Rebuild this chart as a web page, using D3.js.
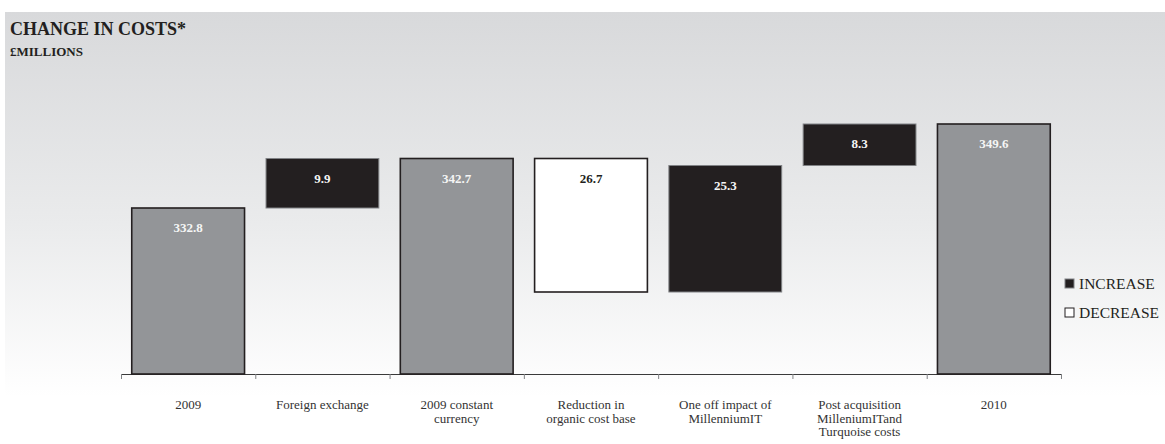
<!DOCTYPE html>
<html>
<head>
<meta charset="utf-8">
<script src="https://cdn.jsdelivr.net/npm/d3@7"></script>
<style>
  html, body { margin: 0; padding: 0; background: #fff; }
  text { font-family: "Liberation Serif", "DejaVu Serif", serif; }
</style>
</head>
<body>
<svg id="chart"></svg>
<script>
const width = 1165;
const height = 444;

// Chart data
const categories = ["2009", "Foreign exchange", "2009 constant currency", "Reduction in organic cost base",
  "One off impact of MillenniumIT", "Post acquisition MilleniumITand Turquoise costs", "2010"];
const categoryLines = [
  ["2009"],
  ["Foreign exchange"],
  ["2009 constant", "currency"],
  ["Reduction in", "organic cost base"],
  ["One off impact of", "MillenniumIT"],
  ["Post acquisition", "MilleniumITand", "Turquoise costs"],
  ["2010"]
];
const values = [332.8, 9.9, 342.7, -26.7, 25.3, 8.3, 349.6];
const kinds = ["total", "increase", "total", "decrease", "increase", "increase", "total"];
const legendLabels = ["INCREASE", "DECREASE"];

// Build waterfall segments
let running = 0;
const bars = values.map((v, i) => {
  let start, end;
  if (kinds[i] === "total") {
    start = null;
    end = v;
    running = v;
  } else {
    start = running;
    end = running + v;
    running = end;
  }
  return { cat: categories[i], value: v, kind: kinds[i], start: start, end: end };
});

const svg = d3.select("#chart").attr("width", width).attr("height", height);

// Background gradient
const defs = svg.append("defs");
const grad = defs.append("linearGradient")
  .attr("id", "bg").attr("x1", 0).attr("y1", 0).attr("x2", 0).attr("y2", 1);
grad.append("stop").attr("offset", "0%").attr("stop-color", "#d8d9db");
grad.append("stop").attr("offset", "55%").attr("stop-color", "#eaebec");
grad.append("stop").attr("offset", "100%").attr("stop-color", "#ffffff");

svg.append("rect").attr("x", 5).attr("y", 12)
  .attr("width", width - 5).attr("height", 385)
  .attr("fill", "url(#bg)");

// Scales
const x = d3.scaleBand()
  .domain(categories)
  .range([121, 1061])
  .paddingInner(0.16)
  .paddingOuter(0.08);

const y = d3.scaleLinear()
  .domain([299.6, 349.6])
  .range([374, 124]);

const fills = { total: "#939598", increase: "#231f20", decrease: "#ffffff" };
const strokes = { total: "#231f20", increase: "#808285", decrease: "#231f20" };
const labelFills = { total: "#f5f5f5", increase: "#f5f5f5", decrease: "#231f20" };

const barTop = d => d.kind === "total" ? y(d.end) : y(Math.max(d.start, d.end));
const barBottom = d => d.kind === "total" ? y(y.domain()[0]) : y(Math.min(d.start, d.end));

// Axis with ticks at band edges
const edge = d3.scaleLinear().domain([0, categories.length]).range(x.range());
const axis = svg.append("g")
  .attr("transform", "translate(0,374)")
  .call(d3.axisBottom(edge).ticks(categories.length).tickSize(5).tickSizeOuter(0).tickFormat(""));
axis.select(".domain").attr("stroke", "#3a3a3a");
axis.selectAll(".tick line").attr("stroke", "#808285");

// Bars
svg.selectAll("rect.bar")
  .data(bars)
  .enter()
  .append("rect")
  .attr("class", "bar")
  .attr("x", d => x(d.cat))
  .attr("y", d => barTop(d))
  .attr("width", x.bandwidth())
  .attr("height", d => barBottom(d) - barTop(d))
  .attr("fill", d => fills[d.kind])
  .attr("stroke", d => strokes[d.kind])
  .attr("stroke-width", d => d.kind === "increase" ? 1 : 1.6);

// Value labels
svg.selectAll("text.val")
  .data(bars)
  .enter()
  .append("text")
  .attr("class", "val")
  .attr("x", d => x(d.cat) + x.bandwidth() / 2)
  .attr("y", d => barTop(d) + 24)
  .attr("text-anchor", "middle")
  .attr("font-size", "13px")
  .attr("font-weight", "bold")
  .attr("fill", d => labelFills[d.kind])
  .text(d => Math.abs(d.value).toFixed(1));

// Category labels
const catLabels = svg.selectAll("text.cat")
  .data(categories)
  .enter()
  .append("text")
  .attr("class", "cat")
  .attr("text-anchor", "middle")
  .attr("font-size", "13px")
  .attr("fill", "#333333");

catLabels.selectAll("tspan")
  .data((d, i) => categoryLines[i].map(line => ({ line: line, cat: d })))
  .enter()
  .append("tspan")
  .attr("x", d => x(d.cat) + x.bandwidth() / 2)
  .attr("y", (d, j) => 409 + j * 13.5)
  .text(d => d.line);

// Title
svg.append("text").attr("x", 10).attr("y", 35)
  .attr("font-size", "18px").attr("font-weight", "bold").attr("fill", "#231f20")
  .text("CHANGE IN COSTS*");
svg.append("text").attr("x", 10).attr("y", 56)
  .attr("font-size", "13px").attr("font-weight", "bold").attr("fill", "#231f20")
  .text("£MILLIONS");

// Legend
const legend = svg.selectAll("g.legend")
  .data(legendLabels)
  .enter()
  .append("g")
  .attr("class", "legend")
  .attr("transform", (d, i) => "translate(1065," + (279 + i * 29) + ")");

legend.append("rect")
  .attr("width", 9).attr("height", 9)
  .attr("fill", (d, i) => i === 0 ? "#231f20" : "#ffffff")
  .attr("stroke", (d, i) => i === 0 ? "#808285" : "#231f20")
  .attr("stroke-width", 1);

legend.append("text")
  .attr("x", 14).attr("y", 9.5)
  .attr("font-size", "15.5px")
  .attr("fill", "#231f20")
  .text(d => d);
</script>
</body>
</html>
